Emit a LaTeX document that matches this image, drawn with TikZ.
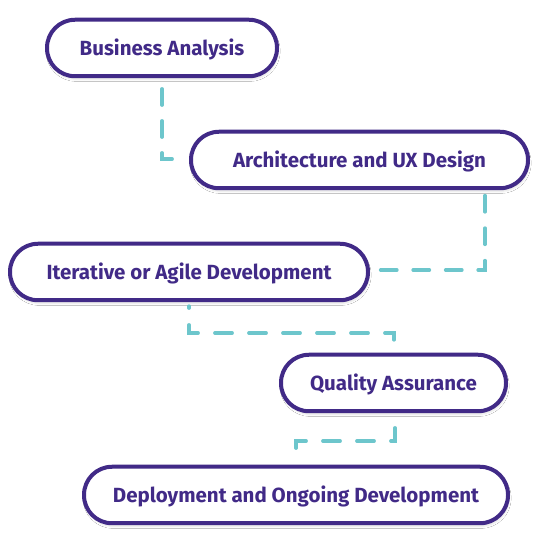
\documentclass[tikz,border=0pt]{standalone}
\usepackage{fontspec}
\setmainfont{Fira Sans}
\usetikzlibrary{shadows.blur}
\definecolor{boxpurple}{HTML}{412A87}
\definecolor{linkteal}{HTML}{6DC6CC}
\begin{document}
\begin{tikzpicture}[x=1pt,y=1pt,
  stagebox/.style={draw=boxpurple, line width=4pt, fill=white, rounded corners=28pt,
    minimum height=56.5pt, inner sep=0pt, text=boxpurple,
    text height=14.5pt, text depth=0pt,
    font=\fontsize{20.5}{24}\selectfont\bfseries,
    blur shadow={shadow xshift=1pt, shadow yshift=-3pt, shadow opacity=12, shadow blur steps=6}},
  link/.style={draw=linkteal, line width=3.8pt, dash pattern=on 16pt off 16.5pt, line cap=round},
  widelink/.style={link, dash pattern=on 17pt off 17pt}]
\useasboundingbox (0,0) rectangle (540,540);
\fill[white] (0,0) rectangle (540,540);
\node[stagebox, minimum width=230pt] (ba) at (162,492) {Business Analysis};
\node[stagebox, minimum width=337pt] (ad) at (359.5,380) {Architecture and UX Design};
\node[stagebox, minimum width=358pt] (iad) at (189,268) {Iterative or Agile Development};
\node[stagebox, minimum width=225pt] (qa) at (393.5,157) {Quality Assurance};
\node[stagebox, minimum width=424pt] (dod) at (296,45) {Deployment and Ongoing Development};
\draw[link, dash pattern=on 16pt off 16pt] ([yshift=-10.75pt]ba.south) |- ([xshift=-4.75pt,yshift=1pt]ad.west);
\draw[link] ([xshift=10.75pt,yshift=2pt]iad.east) -| ([xshift=125.5pt,yshift=-3.75pt]ad.south);
\draw[widelink, dash phase=15.25pt] ([yshift=-4pt]iad.south) -- ++(0,-26.75) -| ([xshift=0.5pt,yshift=13pt]qa.north);
\draw[widelink] ([xshift=1.5pt,yshift=-14.75pt]qa.south) -- ++(0,-13) -| ([yshift=2.75pt]dod.north);
\end{tikzpicture}
\end{document}
